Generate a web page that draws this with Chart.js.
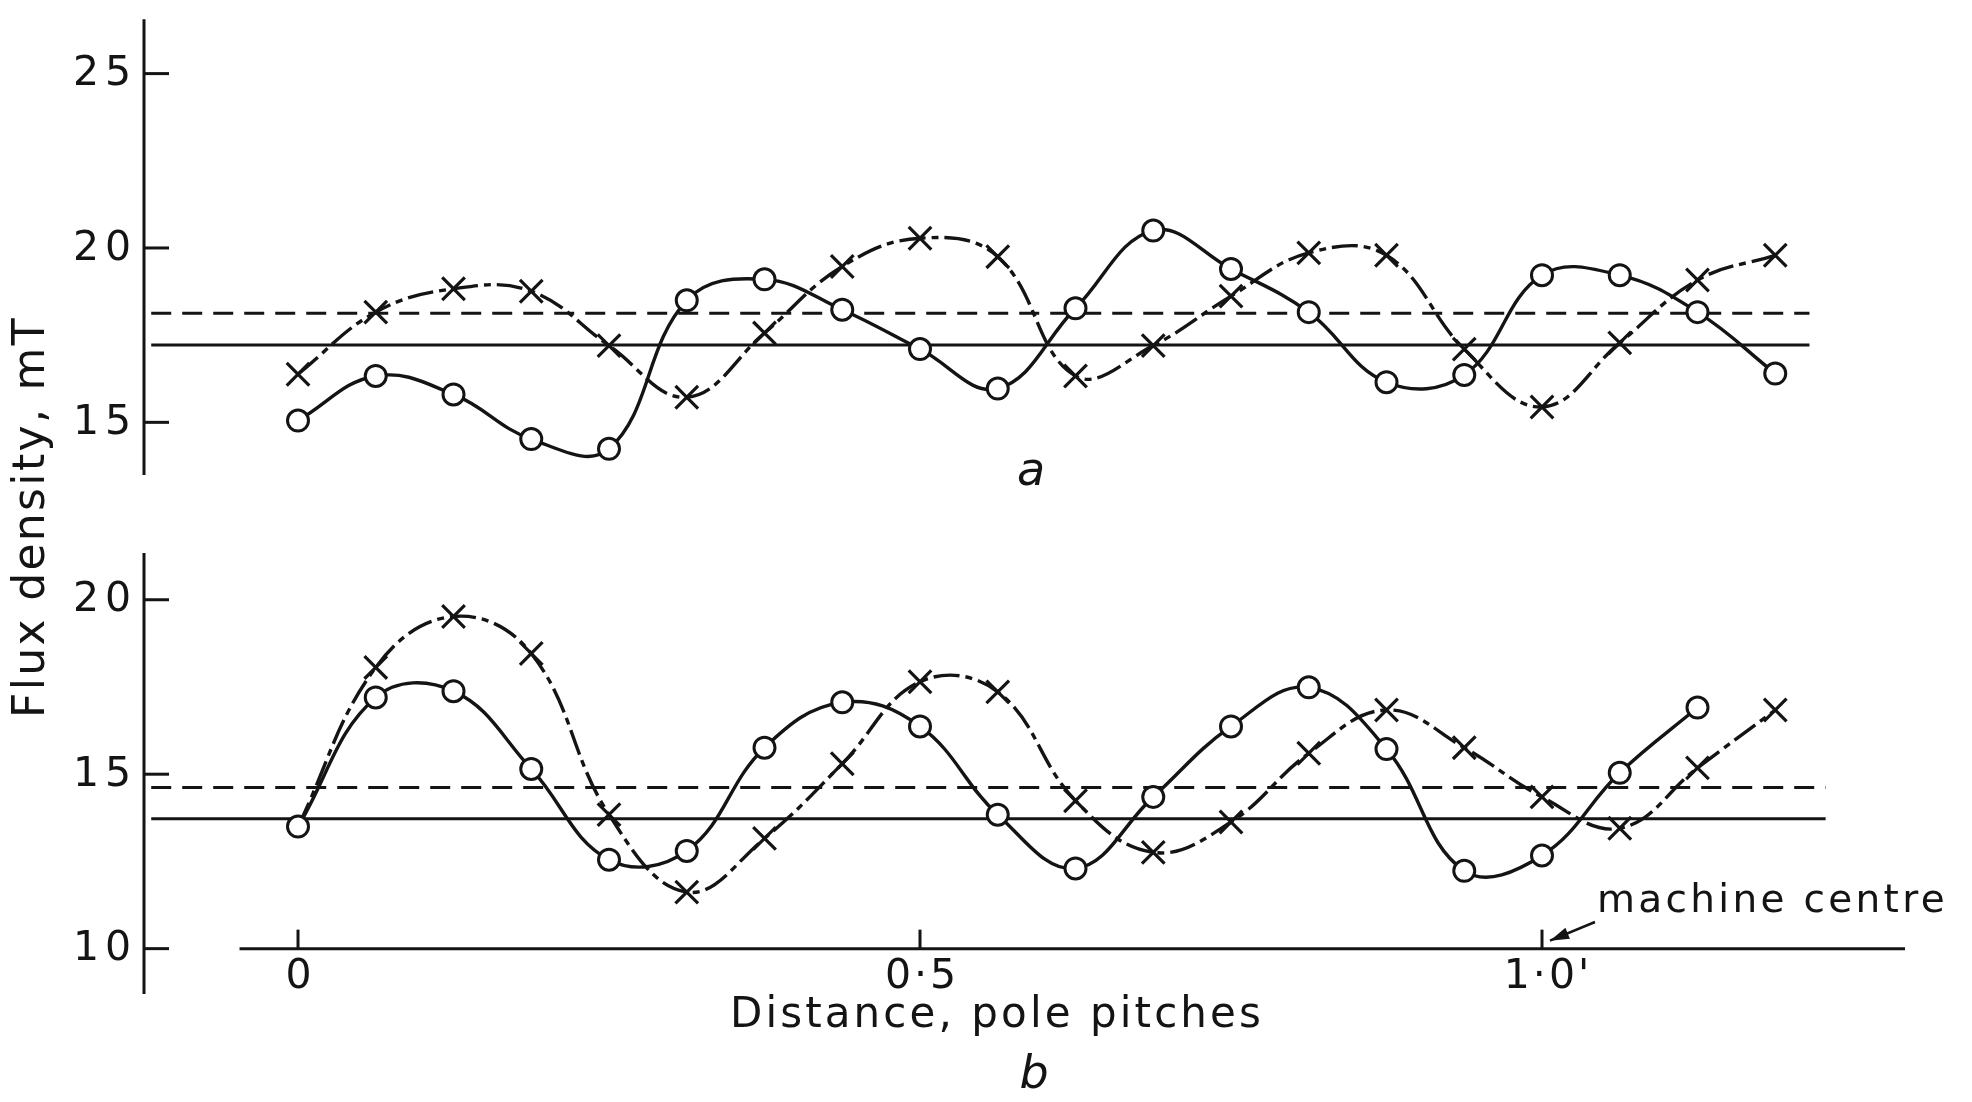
<!DOCTYPE html>
<html>
<head>
<meta charset="utf-8">
<title>Flux density along the gap</title>
<script src="https://cdn.jsdelivr.net/npm/chart.js@4.4.1/dist/chart.umd.min.js"></script>
<style>
    html, body { margin: 0; padding: 0; background: #fff; }
    #wrap { position: relative; width: 1972px; height: 1102px; }
    #wrap canvas { position: absolute; left: 0; top: 0; }
</style>
</head>
<body>
<div id="wrap">
    <canvas id="chartA" width="1972" height="1102"></canvas>
    <canvas id="chartB" width="1972" height="1102"></canvas>
</div>
<script>
// ========== DATA ==========

// distance along the machine, pole pitches
const positions = [0, 0.0625, 0.125, 0.1875, 0.25, 0.3125, 0.375, 0.4375, 0.5, 0.5625,
                   0.625, 0.6875, 0.75, 0.8125, 0.875, 0.9375, 1.0, 1.0625, 1.125, 1.1875];

// panel a, flux density in mT
const circlesA = [15.05, 16.33, 15.8, 14.52, 14.24, 18.5, 19.1, 18.23, 17.1, 15.97,
                  18.27, 20.5, 19.4, 18.16, 16.15, 16.36, 19.22, 19.22, 18.16, 16.4];
const crossesA = [16.38, 18.16, 18.83, 18.76, 17.2, 15.72, 17.56, 19.47, 20.28, 19.75,
                  16.33, 17.2, 18.62, 19.86, 19.79, 17.1, 15.44, 17.28, 19.08, 19.79];
const meanDashedA = 18.13;
const meanSolidA = 17.22;

// panel b, flux density in mT
const circlesB = [13.5, 17.2, 17.38, 15.15, 12.55, 12.8, 15.76, 17.06, 16.37, 13.84,
                  12.3, 14.35, 16.37, 17.49, 15.72, 12.23, 12.67, 15.04, 16.91];
const crossesB = [13.5, 18.06, 19.52, 18.46, 13.84, 11.62, 13.16, 15.3, 17.65, 17.36,
                  14.24, 12.76, 13.63, 15.6, 16.84, 15.76, 14.35, 13.45, 15.18, 16.84];
const meanDashedB = 14.62;
const meanSolidB = 13.72;

// axis ticks
const yTicksA = [15, 20, 25];
const yTicksB = [10, 15, 20];
const xTicks = [0, 0.5, 1.0];
const xTickLabels = ['0', '0·5', '1·0\''];

// ========== HELPERS ==========

const INK = '#141414';
const FONT = "'DejaVu Sans', sans-serif";

function pairs(values) {
    return values.map((v, i) => ({ x: positions[i], y: v }));
}

function levelLine(level, from, to, dashed) {
    return {
        data: [{ x: from, y: level }, { x: to, y: level }],
        borderColor: INK,
        borderWidth: 3,
        borderDash: dashed ? [20, 11] : [],
        pointRadius: 0,
        tension: 0
    };
}

function circleSeries(values) {
    return {
        data: pairs(values),
        borderColor: INK,
        borderWidth: 3.4,
        tension: 0.4,
        pointStyle: 'circle',
        pointRadius: 10.5,
        pointBorderWidth: 3,
        pointBorderColor: INK,
        pointBackgroundColor: '#fff'
    };
}

function crossSeries(values, hideFirst) {
    return {
        data: pairs(values),
        borderColor: INK,
        borderWidth: 3.4,
        borderDash: [26, 6, 7, 6],
        tension: 0.4,
        pointStyle: 'crossRot',
        pointRadius: ctx => (hideFirst && ctx.dataIndex === 0) ? 0 : 16,
        pointBorderWidth: 3.2,
        pointBorderColor: INK
    };
}

// text stretched to a given width with letter spacing, drawn from its left edge
function spacedText(ctx, text, x, y, width) {
    ctx.textAlign = 'left';
    ctx.letterSpacing = '0px';
    const natural = ctx.measureText(text).width;
    const gap = Math.max(0, (width - natural) / text.length);
    ctx.letterSpacing = gap + 'px';
    ctx.fillText(text, x, y);
    ctx.letterSpacing = '0px';
}

// hand-drawn style axes: vertical line with inward ticks
const axesPlugin = {
    id: 'plateAxes',
    afterDatasetsDraw(chart, args, opts) {
        const { ctx, chartArea } = chart;
        const xs = chart.scales.x;
        const ys = chart.scales.y;
        const ax = chartArea.left;

        ctx.save();
        ctx.strokeStyle = INK;
        ctx.fillStyle = INK;
        ctx.lineWidth = 3;

        ctx.beginPath();
        ctx.moveTo(ax, chartArea.top);
        ctx.lineTo(ax, chartArea.bottom);
        ctx.stroke();

        ctx.font = '41px ' + FONT;
        ctx.textBaseline = 'middle';
        opts.yTicks.forEach(t => {
            const py = ys.getPixelForValue(t);
            ctx.beginPath();
            ctx.moveTo(ax, py);
            ctx.lineTo(ax + 25, py);
            ctx.stroke();
            spacedText(ctx, String(t), ax - 71, py + 1, 64);
        });

        if (opts.xAxis) {
            const py = ys.getPixelForValue(opts.xAxis.level);
            ctx.beginPath();
            ctx.moveTo(xs.getPixelForValue(opts.xAxis.from), py);
            ctx.lineTo(chartArea.right, py);
            ctx.stroke();

            xTicks.forEach((t, i) => {
                const px = xs.getPixelForValue(t);
                ctx.beginPath();
                ctx.moveTo(px, py);
                ctx.lineTo(px, py - 19);
                ctx.stroke();
                ctx.textAlign = 'center';
                ctx.letterSpacing = '3px';
                ctx.fillText(xTickLabels[i], px + (i === 2 ? 6 : 2), py + 29);
                ctx.letterSpacing = '0px';
            });
        }

        // panel letter
        ctx.font = 'italic 46px ' + FONT;
        ctx.textAlign = 'center';
        ctx.fillText(opts.letter.text, opts.letter.x, opts.letter.y);
        ctx.restore();
    }
};

// titles and the machine-centre note
const labelsPlugin = {
    id: 'plateLabels',
    afterDraw(chart) {
        const { ctx } = chart;
        const xs = chart.scales.x;
        const ys = chart.scales.y;
        ctx.save();
        ctx.fillStyle = INK;
        ctx.strokeStyle = INK;
        ctx.textBaseline = 'middle';

        ctx.font = '42px ' + FONT;
        spacedText(ctx, 'Distance, pole pitches', 730, 1016, 534);

        ctx.font = '39px ' + FONT;
        spacedText(ctx, 'machine centre', 1597, 902, 351);

        ctx.save();
        ctx.translate(33, 517);
        ctx.rotate(-Math.PI / 2);
        ctx.font = '44px ' + FONT;
        spacedText(ctx, 'Flux density, mT', -201, 0, 402);
        ctx.restore();

        // arrow to the centre tick
        const tipX = xs.getPixelForValue(1.0) + 8;
        const tipY = ys.getPixelForValue(10) - 8;
        const fromX = 1595, fromY = 922;
        ctx.lineWidth = 2.6;
        ctx.beginPath();
        ctx.moveTo(fromX, fromY);
        ctx.lineTo(tipX, tipY);
        ctx.stroke();
        const ang = Math.atan2(tipY - fromY, tipX - fromX);
        ctx.beginPath();
        ctx.moveTo(tipX, tipY);
        ctx.lineTo(tipX - 20 * Math.cos(ang - 0.3), tipY - 20 * Math.sin(ang - 0.3));
        ctx.lineTo(tipX - 20 * Math.cos(ang + 0.3), tipY - 20 * Math.sin(ang + 0.3));
        ctx.closePath();
        ctx.fill();
        ctx.restore();
    }
};

// ========== CHARTS ==========

const xRange = { min: -0.1238, max: 1.2918 };

function baseOptions(padding, yMin, yMax, axesOpts) {
    return {
        responsive: false,
        animation: false,
        events: [],
        layout: { padding },
        plugins: {
            legend: { display: false },
            tooltip: { enabled: false },
            plateAxes: axesOpts
        },
        scales: {
            x: { type: 'linear', min: xRange.min, max: xRange.max, display: false },
            y: { type: 'linear', min: yMin, max: yMax, display: false }
        }
    };
}

new Chart(document.getElementById('chartA'), {
    type: 'line',
    data: {
        datasets: [
            circleSeries(circlesA),
            crossSeries(crossesA, false),
            levelLine(meanDashedA, -0.118, 1.215, true),
            levelLine(meanSolidA, -0.118, 1.215, false)
        ]
    },
    options: baseOptions({ left: 144, right: 67, top: 10, bottom: 627 }, 13.49, 26.56,
        { yTicks: yTicksA, letter: { text: 'a', x: 1031, y: 473 } }),
    plugins: [axesPlugin]
});

new Chart(document.getElementById('chartB'), {
    type: 'line',
    data: {
        datasets: [
            circleSeries(circlesB),
            crossSeries(crossesB, true),
            levelLine(meanDashedB, -0.118, 1.228, true),
            levelLine(meanSolidB, -0.118, 1.228, false)
        ]
    },
    options: baseOptions({ left: 144, right: 67, top: 553, bottom: 108 }, 8.70, 21.34,
        { yTicks: yTicksB, letter: { text: 'b', x: 1034, y: 1076 }, xAxis: { level: 10, from: -0.047 } }),
    plugins: [axesPlugin, labelsPlugin]
});
</script>
</body>
</html>
